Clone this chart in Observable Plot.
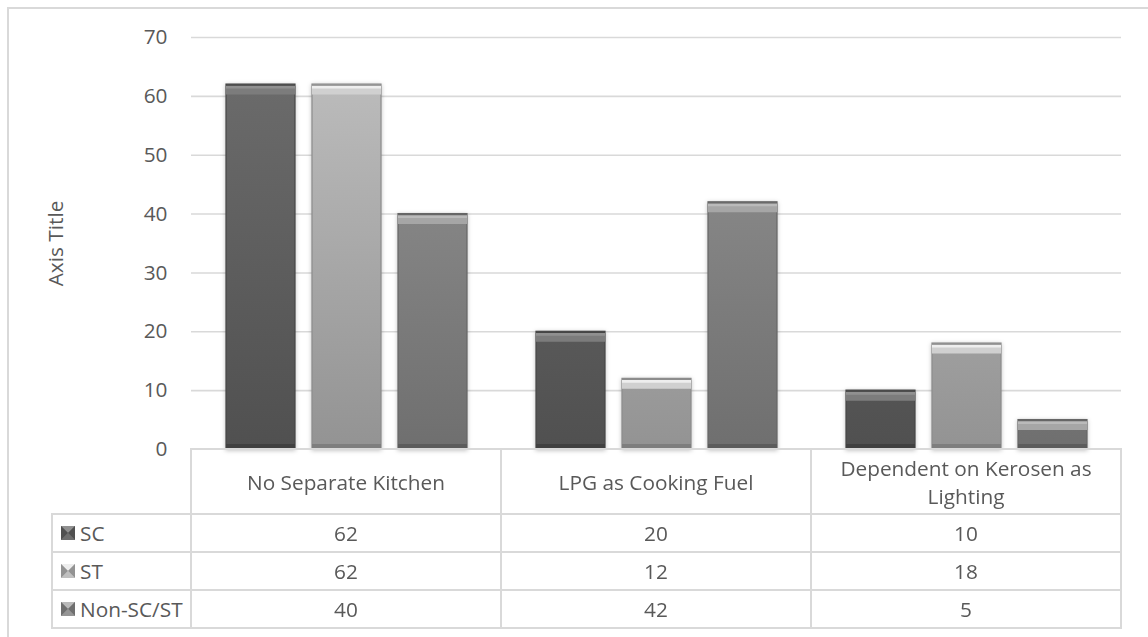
<!DOCTYPE html>
<html><head><meta charset="utf-8">
<script src="https://cdn.jsdelivr.net/npm/d3@7"></script>
<script src="https://cdn.jsdelivr.net/npm/@observablehq/plot@0.6"></script>
<style>
html,body{margin:0;padding:0;background:#fff;}
#chart{position:relative;width:1148px;height:637px;overflow:hidden;font-family:"Open Sans",sans-serif;color:#595959;background:#fff;}
#frame{position:absolute;left:7px;top:7px;width:1200px;height:700px;border-top:2px solid #d9d9d9;border-left:2px solid #d9d9d9;}
#chart svg.plot{position:absolute;left:0;top:0;}
.cell{position:absolute;box-sizing:border-box;display:flex;align-items:center;justify-content:center;text-align:center;font-size:20.8px;line-height:28px;padding:0 10px;}
.rowlab{justify-content:flex-start;padding:0 0 0 9px;white-space:nowrap;}
.rowlab svg{margin-right:5px;flex:none;}
.line{position:absolute;background:#d9d9d9;}
</style></head><body><div id="chart"><div id="frame"></div></div>
<script>
// ---- data ----
const categories = ["No Separate Kitchen", "LPG as Cooking Fuel", "Dependent on Kerosen as Lighting"];
const series = ["SC", "ST", "Non-SC/ST"];
const scValues = [62, 20, 10];
const stValues = [62, 12, 18];
const nonValues = [40, 42, 5];
const yTicks = [0, 10, 20, 30, 40, 50, 60, 70];
const axisTitle = "Axis Title";

// ---- styles ----
const look = {
  "SC":        {top: "#6e6e6e", bottom: "#505050", edge: "#464646", strip: "#7c7c7c", hi: "#909090", base: "#404040"},
  "ST":        {top: "#c0c0c0", bottom: "#939393", edge: "#8c8c8c", strip: "#d0d0d0", hi: "#eeeeee", base: "#7e7e7e"},
  "Non-SC/ST": {top: "#959595", bottom: "#6f6f6f", edge: "#666666", strip: "#a6a6a6", hi: "#bababa", base: "#5c5c5c"}
};
const gid = s => "grad-" + series.indexOf(s);

const valuesBySeries = [scValues, stValues, nonValues];
const data = categories.flatMap((c, i) => series.map((s, j) => ({category: c, series: s, value: valuesBySeries[j][i]})));

const plot = Plot.plot({
  width: 1148, height: 637,
  marginTop: 37, marginBottom: 188, marginLeft: 191, marginRight: 27,
  style: {fontFamily: '"Open Sans", sans-serif', fontSize: "20.8px", color: "#595959", background: "transparent", overflow: "visible"},
  fx: {domain: categories, padding: 0, axis: null, label: null},
  x: {domain: series, paddingInner: 0.198, paddingOuter: 0.4, axis: null, label: null},
  y: {domain: [0, 70], label: null},
  color: {type: "identity"},
  marks: [
    Plot.gridY(yTicks.filter(v => v > 0), {stroke: "#d9d9d9", strokeOpacity: 1, strokeWidth: 1.6}),
    Plot.axisY(yTicks, {tickSize: 0, tickPadding: 24, fontSize: 20.8, color: "#595959", fill: "#595959",
      label: axisTitle, labelAnchor: "center", labelOffset: 143, labelArrow: "none"}),
    Plot.barY(data, {fx: "category", x: "series", y: "value",
      fill: d => `url(#${gid(d.series)})`, stroke: d => look[d.series].edge, strokeWidth: 1.2}),
    Plot.tickY(data, {fx: "category", x: "series", y: "value", stroke: d => look[d.series].strip, strokeWidth: 9, dy: 5.5}),
    Plot.tickY(data, {fx: "category", x: "series", y: "value", stroke: d => look[d.series].hi, strokeWidth: 3, dy: 2.5}),
    Plot.tickY(data, {fx: "category", x: "series", y: "value", stroke: d => look[d.series].edge, strokeWidth: 1.2, dy: 0.6}),
    Plot.tickY(data, {fx: "category", x: "series", y: d => 0, stroke: d => look[d.series].base, strokeWidth: 5, dy: -3})
  ]
});
plot.classList.add("plot");
document.getElementById("chart").appendChild(plot);

const yS = plot.scale("y");
const fxS = plot.scale("fx");
const defs = d3.select(plot).insert("defs", ":first-child");
series.forEach(s => {
  const g = defs.append("linearGradient").attr("id", gid(s)).attr("gradientUnits", "userSpaceOnUse")
    .attr("x1", 0).attr("x2", 0).attr("y1", yS.apply(70)).attr("y2", yS.apply(0));
  g.append("stop").attr("offset", 0).attr("stop-color", look[s].top);
  g.append("stop").attr("offset", 1).attr("stop-color", look[s].bottom);
});
d3.select(plot).selectAll('g[aria-label="bar"]').style("filter", "drop-shadow(0px 1px 2px rgba(0,0,0,0.25))");

// ---- data table below the plot ----
const chart = d3.select("#chart");
const top0 = yS.apply(0);
const headH = 65, rowH = 38;
const bw = fxS.bandwidth;
const colX = categories.map(c => fxS.apply(c));
const left0 = 52, right0 = colX[colX.length - 1] + bw;
const lw = 2;
function hline(x1, x2, y) { chart.append("div").attr("class", "line").style("left", (x1 - lw / 2) + "px").style("top", (y - lw / 2) + "px").style("width", (x2 - x1 + lw) + "px").style("height", lw + "px"); }
function vline(x, y1, y2) { chart.append("div").attr("class", "line").style("left", (x - lw / 2) + "px").style("top", (y1 - lw / 2) + "px").style("width", lw + "px").style("height", (y2 - y1 + lw) + "px"); }

categories.forEach((c, i) => {
  chart.append("div").attr("class", "cell").style("left", colX[i] + "px").style("top", top0 + "px")
    .style("width", bw + "px").style("height", headH + "px").text(c);
  series.forEach((s, j) => {
    chart.append("div").attr("class", "cell").style("left", colX[i] + "px").style("top", (top0 + headH + rowH * j) + "px")
      .style("width", bw + "px").style("height", rowH + "px").text(valuesBySeries[j][i]);
  });
});
series.forEach((s, j) => {
  const L = look[s];
  const cell = chart.append("div").attr("class", "cell rowlab").style("left", left0 + "px").style("top", (top0 + headH + rowH * j) + "px")
    .style("width", (colX[0] - left0) + "px").style("height", rowH + "px");
  const k = cell.append("svg").attr("width", 14).attr("height", 14);
  k.append("rect").attr("width", 14).attr("height", 14).attr("fill", L.top);
  k.append("polygon").attr("points", "0,0 14,0 7,7").attr("fill", L.hi);
  k.append("polygon").attr("points", "0,0 7,7 0,14").attr("fill", L.bottom);
  k.append("polygon").attr("points", "14,0 7,7 14,14").attr("fill", L.bottom);
  k.append("polygon").attr("points", "0,14 7,7 14,14").attr("fill", L.top);
  cell.append("span").text(s);
});
// grid of the table
hline(colX[0], right0, top0);
for (let j = 0; j <= series.length; j++) hline(left0, right0, top0 + headH + rowH * j);
vline(left0, top0 + headH, top0 + headH + rowH * series.length);
colX.forEach(x => vline(x, top0, top0 + headH + rowH * series.length));
vline(right0, top0, top0 + headH + rowH * series.length);
</script></body></html>
